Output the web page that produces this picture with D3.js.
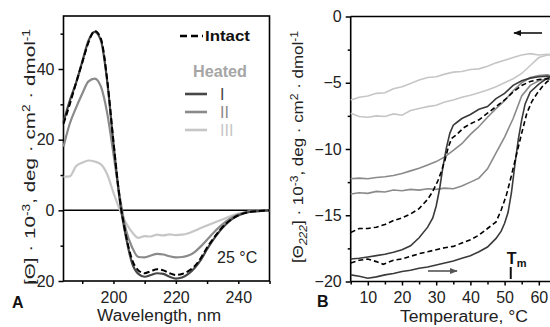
<!DOCTYPE html>
<html><head><meta charset="utf-8">
<script src="https://cdn.jsdelivr.net/npm/d3@7/dist/d3.min.js"></script>
<style>
body{margin:0;background:#fff}
svg{display:block;font-family:Arial,"Liberation Sans",sans-serif}
</style>
</head><body>
<svg id="c" width="550" height="327"></svg>
<script>
// ---------- Panel A: CD spectra at 25 °C ----------
const wavelengths = [184,186,188,190,192,194,196,198,200,202,204,206,208,210,212,214,216,218,220,222,224,226,228,230,232,234,236,238,240,242,244,246,248,250];
const intactA = [24.5,30,36,41.8,47.5,50.8,48.5,37,19.5,3.5,-7,-14,-17,-17.8,-17.2,-16.7,-17.0,-17.8,-18.3,-18.0,-17.2,-15.8,-13.5,-10.5,-8,-5.7,-3.8,-2.4,-1.4,-0.8,-0.4,-0.2,-0.1,0];
const heatedI = [25,31,36,42,48,50.5,48,36.5,19,3,-7.5,-15,-18,-18.8,-18.3,-17.8,-18.0,-18.8,-19.3,-19.0,-18.0,-16.3,-14,-11,-8.3,-5.9,-4,-2.5,-1.5,-0.8,-0.4,-0.2,-0.1,0];
const heatedII = [18,24.5,29,33,36.5,37.3,35,27.5,16,4,-5.5,-10.5,-13.2,-13.3,-12.8,-12.3,-12.5,-13.0,-13.3,-13.2,-12.8,-11.8,-10.2,-8.3,-6.4,-4.7,-3.2,-2.0,-1.2,-0.6,-0.3,-0.2,-0.1,0];
const heatedIII = [9.5,9.6,12.5,13.5,14.1,13.8,13,10.2,5,0.2,-3.5,-6.2,-7.8,-7.3,-7.4,-6.9,-7.1,-6.8,-7.0,-6.9,-6.5,-5.8,-5.0,-4.3,-3.6,-2.9,-2.2,-1.5,-0.9,-0.6,-0.3,-0.2,-0.1,0];
const aXTicks = [200,220,240];
const aXMinor = [190,210,230,250];
const aYTicks = [-20,0,20,40];
const aYMinor = [-10,10,30,50];

// ---------- Panel B: thermal melting at 222 nm ----------
const bIIIup = [[5,-6.3],[7.5,-6.1],[10,-6.0],[12.5,-5.8],[15,-5.75],[17.5,-5.45],[20,-5.3],[22.5,-5.05],[25,-4.8],[27.5,-4.6],[30,-4.55],[32.5,-4.35],[35,-4.2],[37.5,-4.15],[40,-4.0],[42.5,-3.95],[45,-3.75],[47.5,-3.5],[50,-3.3],[52.5,-3.1],[55,-2.9],[57.5,-2.8],[60,-2.9],[62.5,-2.85],[64,-2.9]];
const bIIIdown = [[5,-7.3],[7.5,-7.55],[10,-7.6],[12.5,-7.5],[15,-7.55],[17.5,-7.35],[20,-7.45],[22.5,-7.1],[25,-6.95],[27.5,-6.8],[30,-6.7],[32.5,-6.45],[35,-6.3],[37.5,-6.1],[40,-5.95],[42.5,-5.75],[45,-5.55],[47.5,-5.3],[50,-5.0],[52.5,-4.7],[55,-4.3],[57.5,-3.7],[60,-3.1],[62.5,-2.9],[64,-2.9]];
const bIIup = [[5,-12.25],[7.5,-12.2],[10,-12.25],[12.5,-12.15],[15,-12.1],[17.5,-12.0],[20,-11.85],[22.5,-11.65],[25,-11.45],[27.5,-11.2],[30,-10.95],[32.5,-10.6],[35,-10.1],[37.5,-9.6],[40,-8.9],[42.5,-8.3],[45,-7.6],[47.5,-6.95],[50,-6.35],[52.5,-5.6],[55,-5.0],[57.5,-4.6],[60,-4.45],[62.5,-4.4],[64,-4.5]];
const bIIdown = [[5,-13.4],[7.5,-13.3],[10,-13.35],[12.5,-13.2],[15,-13.25],[17.5,-13.1],[20,-13.15],[22.5,-13.05],[25,-13.1],[27.5,-13.0],[30,-13.05],[32.5,-12.95],[35,-13.0],[37.5,-12.8],[40,-12.5],[42.5,-12.2],[45,-11.5],[47.5,-10.3],[50,-9.1],[52.5,-7.7],[55,-6.0],[57.5,-5.2],[60,-4.85],[62.5,-4.7],[64,-4.8]];
const bIheat = [[5,-19.5],[7.5,-19.6],[10,-19.75],[12.5,-19.65],[15,-19.5],[17.5,-19.4],[20,-19.25],[22.5,-19.15],[25,-19.0],[27.5,-18.9],[30,-18.75],[32.5,-18.6],[35,-18.45],[37.5,-18.25],[40,-18.05],[42.5,-17.75],[45,-17.4],[47.5,-16.75],[49,-16.2],[50,-15.6],[51,-14.8],[52,-13.3],[53,-11.2],[54,-9.3],[55,-7.8],[56,-6.6],[57.5,-5.7],[60,-5.1],[62.5,-4.65],[64,-4.5]];
const bIcool = [[5,-18.3],[7.5,-18.25],[10,-18.15],[12.5,-18.05],[15,-17.95],[17.5,-17.8],[20,-17.6],[22.5,-17.3],[25,-16.7],[27.5,-15.9],[29,-15.2],[30,-14.3],[31,-13.0],[32,-11.3],[33,-9.9],[34,-8.8],[35,-8.2],[36,-8.0],[37.5,-7.7],[40,-7.4],[42.5,-7.0],[45,-6.8],[47.5,-6.2],[50,-5.8],[52.5,-5.2],[55,-4.85],[57.5,-4.65],[60,-4.55],[62.5,-4.5],[64,-4.6]];
const bIntactHeat = [[5,-18.6],[7.5,-18.4],[10,-18.3],[12.5,-18.5],[14.5,-18.7],[17.5,-18.4],[20,-18.3],[22.5,-18.1],[25,-17.9],[27.5,-17.75],[30,-17.6],[32.5,-17.45],[35,-17.35],[37.5,-17.1],[40,-16.85],[42.5,-16.5],[45,-16.0],[47.5,-15.5],[49,-14.6],[50.5,-13.5],[52,-12.0],[53.5,-10.4],[55,-8.8],[56.5,-7.3],[58,-6.4],[59.5,-5.8],[61,-5.3],[62.5,-4.9],[64,-4.7]];
const bIntactCool = [[5,-16.3],[7.5,-16.0],[10,-16.0],[12.5,-15.9],[15,-15.7],[17.5,-15.4],[20,-15.2],[22.5,-14.9],[25,-14.5],[27.5,-13.8],[29,-13.2],[30.5,-12.4],[31.5,-11.7],[32.5,-10.9],[33.5,-9.9],[34.5,-9.2],[36,-8.9],[38,-8.4],[40,-8.1],[42.5,-7.8],[45,-7.3],[47.5,-6.8],[50,-6.3],[52.5,-5.7],[55,-5.2],[57.5,-4.9],[60,-4.75],[62.5,-4.7],[64,-4.7]];
const bXTicks = [10,20,30,40,50,60];
const bXMinor = [5,15,25,35,45,55,65];
const bYTicks = [0,-5,-10,-15,-20];
const bYMinor = [-2.5,-7.5,-12.5,-17.5];
const tmValue = 51.8;

const colI = "#474747", colII = "#8a8a8a", colIII = "#c6c6c6";

const svg = d3.select("#c");

// ===== Panel A =====
const ax = d3.scaleLinear().domain([184,250]).range([63.5,269.5]);
const ay = d3.scaleLinear().domain([-20,55]).range([281,16]);
const gA = svg.append("g");

function styleAxis(g){
  g.select(".domain").remove();
  g.selectAll(".tick line").attr("stroke","#000").attr("stroke-width",1.5);
  g.selectAll(".tick text").attr("font-size",16).attr("fill","#222").attr("font-family","Arial, 'Liberation Sans', sans-serif");
}
gA.append("g").attr("transform",`translate(${ax.range()[0]},0)`)
  .call(d3.axisLeft(ay).tickValues(aYTicks).tickSize(5).tickPadding(4).tickFormat(d3.format("d")))
  .call(styleAxis);
gA.append("g").attr("transform",`translate(${ax.range()[0]},0)`)
  .call(d3.axisLeft(ay).tickValues(aYMinor).tickSize(3).tickFormat(""))
  .call(styleAxis);
gA.append("g").attr("transform",`translate(0,${ay(-20)})`)
  .call(d3.axisBottom(ax).tickValues(aXTicks).tickSize(3).tickPadding(8))
  .call(styleAxis);
gA.append("g").attr("transform",`translate(0,${ay(-20)})`)
  .call(d3.axisBottom(ax).tickValues(aXMinor).tickSize(3).tickFormat(""))
  .call(styleAxis);

gA.append("rect").attr("x",ax(184)).attr("y",ay(55)).attr("width",ax(250)-ax(184)).attr("height",ay(-20)-ay(55))
  .attr("fill","none").attr("stroke","#000").attr("stroke-width",1.6);
gA.append("line").attr("x1",ax(184)).attr("x2",ax(250)).attr("y1",ay(0)).attr("y2",ay(0)).attr("stroke","#000").attr("stroke-width",1.5);

const lineA = d3.line().x((d,i)=>ax(wavelengths[i])).y(d=>ay(d)).curve(d3.curveMonotoneX);
[[heatedIII,colIII,null],[heatedII,colII,null],[heatedI,colI,null],[intactA,"#000","6,3"]].forEach(([vals,c,dash])=>{
  gA.append("path").attr("d",lineA(vals)).attr("fill","none").attr("stroke",c).attr("stroke-width",dash?2:2.2)
    .attr("stroke-dasharray",dash);
});

// legend A
gA.append("line").attr("x1",180).attr("x2",203).attr("y1",36).attr("y2",36).attr("stroke","#000").attr("stroke-width",2.6).attr("stroke-dasharray","7,4");
gA.append("text").attr("x",205).attr("y",41).attr("font-size",15).attr("font-weight","bold").attr("fill","#111")
  .attr("textLength",45).attr("lengthAdjust","spacingAndGlyphs").text("Intact");
gA.append("text").attr("x",193).attr("y",77).attr("font-size",16).attr("font-weight","bold").attr("fill","#a6a6a6")
  .attr("textLength",54).attr("lengthAdjust","spacingAndGlyphs").text("Heated");
[["I",colI,94],["II",colII,112],["III",colIII,130]].forEach(([t,c,y])=>{
  gA.append("line").attr("x1",185).attr("x2",207).attr("y1",y).attr("y2",y).attr("stroke",c).attr("stroke-width",2.6);
  gA.append("text").attr("x",220).attr("y",y+6).attr("font-size",16).attr("fill",c).text(t);
});
gA.append("text").attr("x",217).attr("y",263).attr("font-size",16).attr("fill","#222").text("25 °C");

// labels A
const yLabA = gA.append("text").attr("transform","translate(35,157) rotate(-90)").attr("text-anchor","middle").attr("font-size",15).attr("fill","#222")
  .attr("textLength",256).attr("lengthAdjust","spacingAndGlyphs");
yLabA.append("tspan").text("[Θ] · 10");
yLabA.append("tspan").attr("dy",-5).attr("font-size",10).text("-3");
yLabA.append("tspan").attr("dy",5).text(", deg · cm");
yLabA.append("tspan").attr("dy",-5).attr("font-size",10).text("2");
yLabA.append("tspan").attr("dy",5).text(" · dmol");
yLabA.append("tspan").attr("dy",-5).attr("font-size",10).text("-1");
gA.append("text").attr("x",159).attr("y",321).attr("text-anchor","middle").attr("font-size",16).attr("fill","#222")
  .attr("textLength",124).attr("lengthAdjust","spacingAndGlyphs").text("Wavelength, nm");
gA.append("text").attr("x",12).attr("y",308).attr("font-size",16).attr("font-weight","bold").attr("fill","#111").text("A");

// ===== Panel B =====
const bx = d3.scaleLinear().domain([5,65]).range([350.7,555.9]);
const by = d3.scaleLinear().domain([-20,0]).range([281.5,16.5]);
const gB = svg.append("g");
gB.append("g").attr("transform",`translate(${bx(5)},0)`)
  .call(d3.axisLeft(by).tickValues(bYTicks).tickSize(5).tickPadding(4).tickFormat(d3.format("d")))
  .call(styleAxis);
gB.append("g").attr("transform",`translate(${bx(5)},0)`)
  .call(d3.axisLeft(by).tickValues(bYMinor).tickSize(3).tickFormat(""))
  .call(styleAxis);
gB.append("g").attr("transform",`translate(0,${by(-20)})`)
  .call(d3.axisBottom(bx).tickValues(bXTicks).tickSize(4).tickPadding(6))
  .call(styleAxis);
gB.append("g").attr("transform",`translate(0,${by(-20)})`)
  .call(d3.axisBottom(bx).tickValues(bXMinor).tickSize(3).tickFormat(""))
  .call(styleAxis);
gB.append("line").attr("x1",bx(5)).attr("x2",bx(5)).attr("y1",by(0)).attr("y2",by(-20)).attr("stroke","#000").attr("stroke-width",1.6);
gB.append("line").attr("x1",bx(5)).attr("x2",bx(65)).attr("y1",by(-20)).attr("y2",by(-20)).attr("stroke","#000").attr("stroke-width",1.6);
gB.append("line").attr("x1",bx(5)).attr("x2",bx(65)).attr("y1",by(0)).attr("y2",by(0)).attr("stroke","#000").attr("stroke-width",1.6);

const lineB = d3.line().x(d=>bx(d[0])).y(d=>by(d[1]));
[[bIIIup,colIII,null],[bIIIdown,colIII,null],[bIIup,colII,null],[bIIdown,colII,null],
 [bIheat,"#3a3a3a",null],[bIcool,"#3a3a3a",null],[bIntactHeat,"#000","5,3"],[bIntactCool,"#000","5,3"]].forEach(([vals,c,dash])=>{
  gB.append("path").attr("d",lineB(vals)).attr("fill","none").attr("stroke",c).attr("stroke-width",1.6)
    .attr("stroke-dasharray",dash);
});

// arrows
const defs = svg.append("defs");
function arrowMarker(id,c){
  defs.append("marker").attr("id",id).attr("viewBox","0 0 10 10").attr("refX",9).attr("refY",5)
    .attr("markerWidth",5).attr("markerHeight",5).attr("orient","auto-start-reverse")
    .append("path").attr("d","M0,1L10,5L0,9Z").attr("fill",c);
}
arrowMarker("ah1","#111"); arrowMarker("ah2","#555");
gB.append("line").attr("x1",542).attr("x2",514).attr("y1",33).attr("y2",33).attr("stroke","#111").attr("stroke-width",1.6).attr("marker-end","url(#ah1)");
gB.append("line").attr("x1",428).attr("x2",457).attr("y1",271).attr("y2",271).attr("stroke","#555").attr("stroke-width",1.6).attr("marker-end","url(#ah2)");

// Tm
gB.append("line").attr("x1",bx(tmValue)).attr("x2",bx(tmValue)).attr("y1",267).attr("y2",279).attr("stroke","#111").attr("stroke-width",2);
gB.append("text").attr("x",bx(tmValue)-4).attr("y",264).attr("font-size",16).attr("font-weight","bold").attr("fill","#111").text("T");
gB.append("text").attr("x",bx(tmValue)+6).attr("y",267).attr("font-size",11).attr("font-weight","bold").attr("fill","#111").text("m");

// labels B
const yLabB = gB.append("text").attr("transform","translate(303,147) rotate(-90)").attr("text-anchor","middle").attr("font-size",14).attr("fill","#222")
  .attr("textLength",232).attr("lengthAdjust","spacingAndGlyphs");
yLabB.append("tspan").text("[Θ");
yLabB.append("tspan").attr("dy",4).attr("font-size",10).attr("font-style","italic").text("222");
yLabB.append("tspan").attr("dy",-4).text("] · 10");
yLabB.append("tspan").attr("dy",-5).attr("font-size",10).text("-3");
yLabB.append("tspan").attr("dy",5).text(", deg · cm");
yLabB.append("tspan").attr("dy",-5).attr("font-size",10).text("2");
yLabB.append("tspan").attr("dy",5).text(" · dmol");
yLabB.append("tspan").attr("dy",-5).attr("font-size",10).text("-1");
gB.append("text").attr("x",464).attr("y",322).attr("text-anchor","middle").attr("font-size",16).attr("fill","#222")
  .attr("textLength",128).attr("lengthAdjust","spacingAndGlyphs").text("Temperature, °C");
gB.append("text").attr("x",317).attr("y",307).attr("font-size",16).attr("font-weight","bold").attr("fill","#111").text("B");
</script>
</body></html>
